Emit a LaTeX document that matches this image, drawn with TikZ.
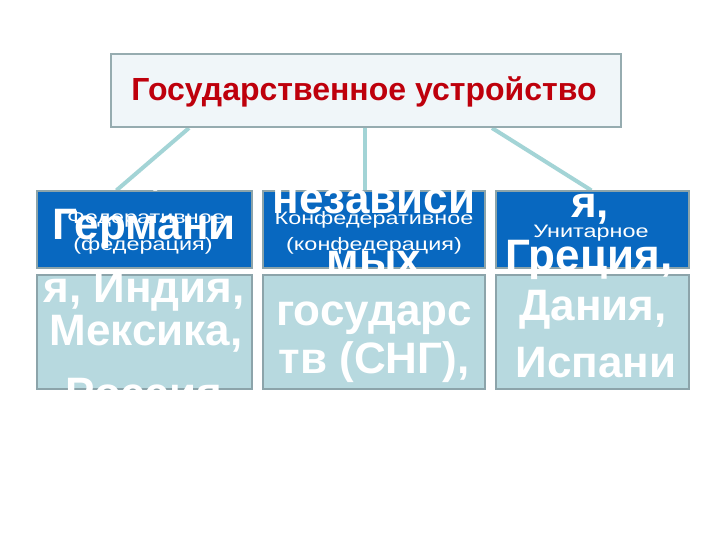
\documentclass[tikz,border=0pt]{standalone}
\usepackage{fontspec}
\setmainfont{Liberation Sans}
\newfontfamily\widefont[FakeStretch=1.3]{Liberation Sans}
\usetikzlibrary{backgrounds}
\definecolor{titlefill}{RGB}{240,246,249}
\definecolor{titleborder}{RGB}{150,172,176}
\definecolor{boxblue}{RGB}{8,104,192}
\definecolor{lightfill}{RGB}{183,217,223}
\definecolor{boxborder}{RGB}{140,164,170}
\definecolor{conncol}{RGB}{163,212,214}
\definecolor{titlered}{RGB}{190,0,12}
\begin{document}
\begin{tikzpicture}[x=1pt,y=-1pt,
  titlebox/.style={draw=titleborder, line width=2pt, fill=titlefill, minimum width=510pt, minimum height=73pt, inner sep=0pt},
  bluebox/.style={draw=boxborder, line width=1.2pt, fill=boxblue, minimum height=77pt, inner sep=0pt},
  lightbox/.style={draw=boxborder, line width=1.6pt, fill=lightfill, minimum height=114pt, inner sep=0pt},
  conn/.style={draw=conncol, line width=4pt},
  titletext/.style={text=titlered, font=\fontsize{32}{38}\bfseries\selectfont, inner sep=0pt, anchor=base},
  small/.style={text=white, font=\widefont\fontsize{18}{22}\selectfont, inner sep=0pt, anchor=base},
  big/.style={text=white, font=\fontsize{44}{50}\bfseries\selectfont, inner sep=0pt, anchor=base}]
\useasboundingbox (0,0) rectangle (720,540);
% boxes
\node[titlebox] (title) at (366,90.5) {};
\node[bluebox, minimum width=215pt] (fed) at (144.5,229.5) {};
\node[bluebox, minimum width=222pt] (conf) at (374,229.5) {};
\node[bluebox, minimum width=193pt] (unit) at (592.5,229.5) {};
\node[lightbox, minimum width=215pt] (fedL) at (144.5,332) {};
\node[lightbox, minimum width=222pt] (confL) at (374,332) {};
\node[lightbox, minimum width=193pt] (unitL) at (592.5,332) {};
% background and connectors
\begin{scope}[on background layer]
\fill[white] (0,0) rectangle (720,540);
\draw[conn] ([xshift=79pt]title.south west) -- ([xshift=80pt]fed.north west);
\draw[conn] ([xshift=-1pt]title.south) -- ([xshift=-1pt]title.south |- conf.north);
\draw[conn] ([xshift=382pt]title.south west) -- ([xshift=96pt]unit.north west);
\end{scope}
% title text
\node[titletext] (tt) at (364,101) {Государственное устройство};
% small labels
\node[small] (f1) at (146,224) {Федеративное};
\node[small] (f2) at (143,250) {(федерация)};
\node[small] (c1) at (374,225) {Конфедеративное};
\node[small] (c2) at (374,250) {(конфедерация)};
\node[small] (u1) at (591,237) {Унитарное};
% big overlapping text
\node[big] (l0) at (157,185) {,};
\node[big] (l1) at (144,240) {Германи};
\node[big] (l2) at (144,302) {я, Индия,};
\node[big] (l3) at (146,345) {Мексика,};
\node[big] (l4) at (144,408) {Россия};
\node[big] (m1) at (374,214) {независи};
\node[big] (m2) at (374,274) {мых};
\node[big] (m3) at (374,325) {государс};
\node[big] (m4) at (374,373) {тв (СНГ),};
\node[big] (r1) at (590,218) {я,};
\node[big] (r2) at (589,270) {Греция,};
\node[big] (r3) at (593,320) {Дания,};
\node[big] (r4) at (596,377) {Испани};
\end{tikzpicture}
\end{document}
